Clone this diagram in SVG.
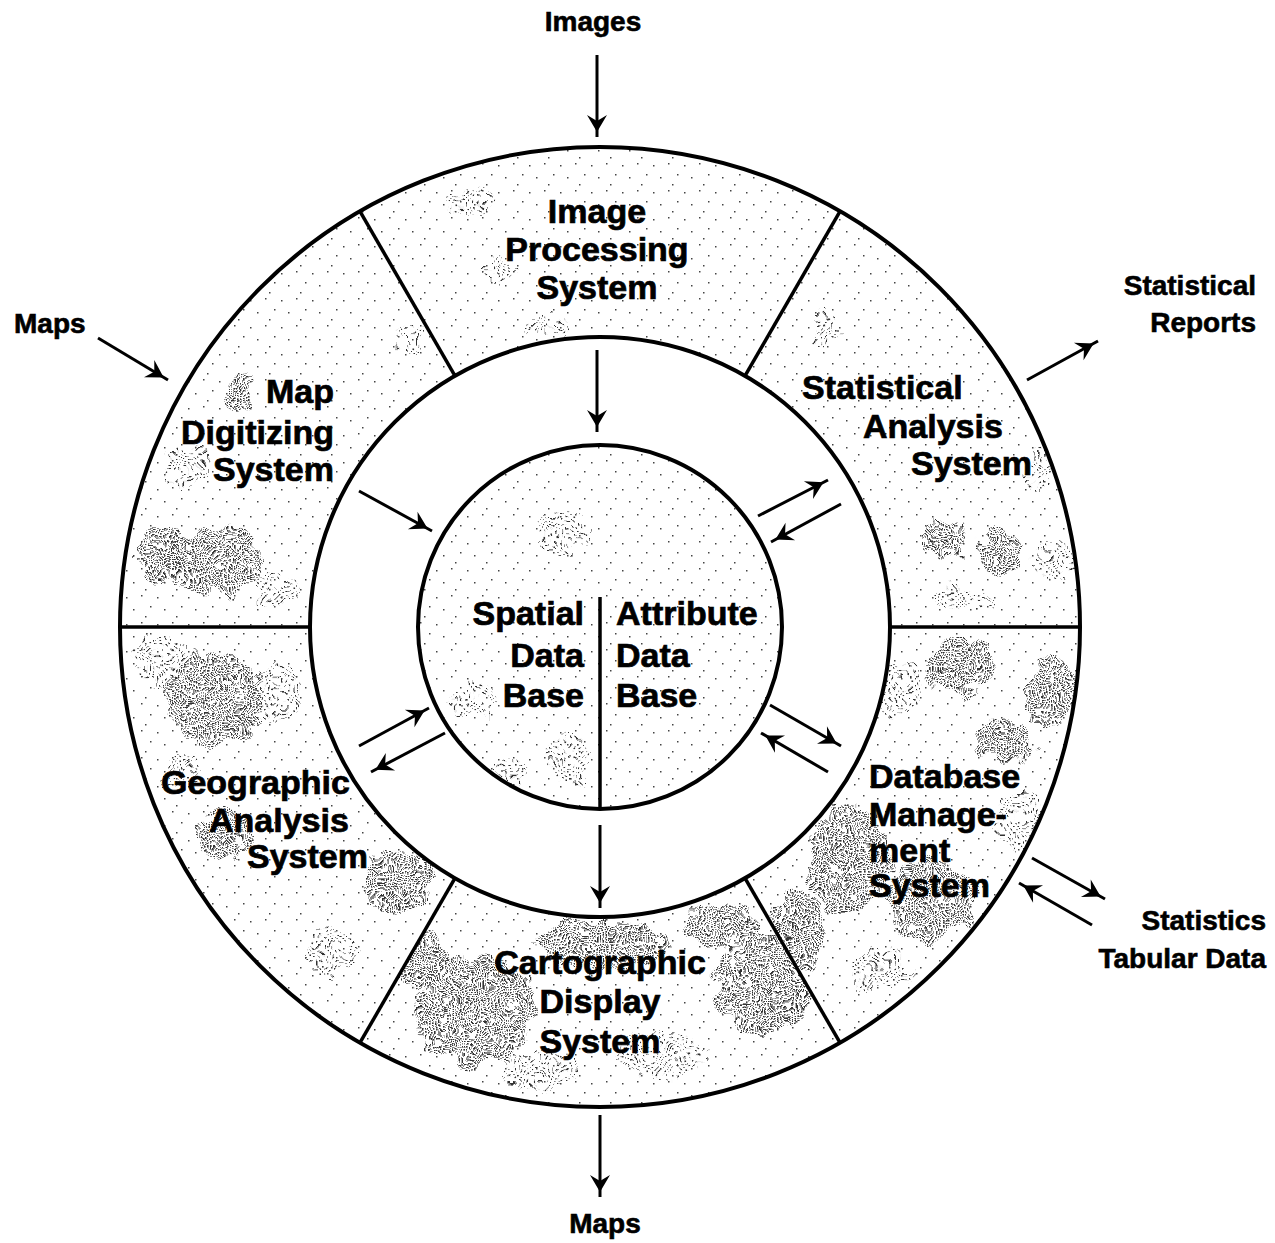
<svg xmlns="http://www.w3.org/2000/svg" xmlns:xlink="http://www.w3.org/1999/xlink" width="1275" height="1243" viewBox="0 0 1275 1243">
<style>
.lbl{font-family:"Liberation Sans",Arial,Helvetica,sans-serif;font-weight:bold;font-size:34px;fill:#000;stroke:#000;stroke-width:0.7px}
.ext{font-family:"Liberation Sans",Arial,Helvetica,sans-serif;font-weight:bold;font-size:28px;fill:#000;stroke:#000;stroke-width:0.6px}
.seg{fill:url(#light);stroke:none}
.ring{fill:none;stroke:#000;stroke-width:4}
.div{stroke:#000;stroke-width:3.5;fill:none}
.arr{stroke:#000;stroke-width:3;fill:none;marker-end:url(#ah)}
.blob{fill:url(#dense)}
.mid{fill:url(#medium)}
</style>
<defs>
<pattern id="light" width="31" height="27" patternUnits="userSpaceOnUse">
<rect x="2" y="3" width="1.5" height="1.5" fill="#444"/>
<rect x="17" y="1" width="1.5" height="1.5" fill="#444"/>
<rect x="26" y="12" width="1.5" height="1.5" fill="#444"/>
<rect x="9" y="15" width="1.5" height="1.5" fill="#444"/>
<rect x="21" y="22" width="1.5" height="1.5" fill="#444"/>
</pattern>
<pattern id="medium" width="7" height="7" patternUnits="userSpaceOnUse">
<rect x="1" y="1" width="1.6" height="1.6" fill="#333"/>
<rect x="4.5" y="4.5" width="1.6" height="1.6" fill="#333"/>
</pattern>
<pattern id="dense" width="3" height="3" patternUnits="userSpaceOnUse">
<rect x="0" y="0" width="1.6" height="1.6" fill="#333"/>
</pattern>
<filter id="mottle" filterUnits="userSpaceOnUse" x="0" y="0" width="1275" height="1243">
<feTurbulence type="fractalNoise" baseFrequency="0.05" numOctaves="2" seed="4" result="n"/>
<feDisplacementMap in="SourceGraphic" in2="n" scale="28" xChannelSelector="R" yChannelSelector="G"/>
</filter>
<marker id="ah" viewBox="-20 -12 30 24" markerWidth="30" markerHeight="24" refX="5" refY="0" orient="auto" markerUnits="userSpaceOnUse">
<path d="M0,0 L-17,-10 L-11,0 L-17,10 Z" fill="#000"/>
</marker>
<path id="s-img" d="M840,211.3 A480,480 0 0 0 360,211.3 L455,375.9 A290,290 0 0 1 745,375.9 Z"/>
<path id="s-stat" d="M1080,627 A480,480 0 0 0 840,211.3 L745,375.9 A290,290 0 0 1 890,627 Z"/>
<path id="s-db" d="M840,1042.7 A480,480 0 0 0 1080,627 L890,627 A290,290 0 0 1 745,878.1 Z"/>
<path id="s-carto" d="M360,1042.7 A480,480 0 0 0 840,1042.7 L745,878.1 A290,290 0 0 1 455,878.1 Z"/>
<path id="s-geo" d="M120,627 A480,480 0 0 0 360,1042.7 L455,878.1 A290,290 0 0 1 310,627 Z"/>
<path id="s-map" d="M360,211.3 A480,480 0 0 0 120,627 L310,627 A290,290 0 0 1 455,375.9 Z"/>
<clipPath id="c-img"><use xlink:href="#s-img"/></clipPath>
<clipPath id="c-stat"><use xlink:href="#s-stat"/></clipPath>
<clipPath id="c-db"><use xlink:href="#s-db"/></clipPath>
<clipPath id="c-carto"><use xlink:href="#s-carto"/></clipPath>
<clipPath id="c-geo"><use xlink:href="#s-geo"/></clipPath>
<clipPath id="c-map"><use xlink:href="#s-map"/></clipPath>
<clipPath id="c-core"><circle cx="600" cy="627" r="182"/></clipPath>
</defs>

<rect width="1275" height="1243" fill="#fff"/>

<g id="image-processing">
<use xlink:href="#s-img" class="seg"/>
<g clip-path="url(#c-img)"><g filter="url(#mottle)">
<ellipse class="mid" cx="470" cy="200" rx="20" ry="15"/>
<ellipse class="mid" cx="500" cy="270" rx="18" ry="14"/>
<ellipse class="mid" cx="545" cy="325" rx="22" ry="10"/>
<ellipse class="mid" cx="830" cy="300" rx="12" ry="14"/>
</g></g>
<text class="lbl" text-anchor="middle"><tspan x="597" y="223">Image</tspan><tspan x="597" y="261">Processing</tspan><tspan x="597" y="299">System</tspan></text>
</g>

<g id="statistical-analysis">
<use xlink:href="#s-stat" class="seg"/>
<g clip-path="url(#c-stat)"><g filter="url(#mottle)">
<ellipse class="mid" cx="825" cy="330" rx="14" ry="16"/>
<ellipse class="blob" cx="945" cy="540" rx="22" ry="20"/>
<ellipse class="blob" cx="1000" cy="550" rx="20" ry="26"/>
<ellipse class="mid" cx="1055" cy="560" rx="20" ry="20"/>
<ellipse class="mid" cx="960" cy="600" rx="30" ry="14"/>
<ellipse class="mid" cx="1040" cy="470" rx="14" ry="18"/>
</g></g>
<text class="lbl"><tspan x="802" y="399">Statistical</tspan><tspan x="863" y="438">Analysis</tspan><tspan x="911" y="475">System</tspan></text>
</g>

<g id="database-management">
<use xlink:href="#s-db" class="seg"/>
<g clip-path="url(#c-db)"><g filter="url(#mottle)">
<ellipse class="blob" cx="960" cy="665" rx="35" ry="30"/>
<ellipse class="blob" cx="1050" cy="690" rx="25" ry="35"/>
<ellipse class="mid" cx="900" cy="690" rx="22" ry="25"/>
<ellipse class="blob" cx="1005" cy="740" rx="30" ry="22"/>
<ellipse class="blob" cx="850" cy="860" rx="40" ry="55"/>
<ellipse class="blob" cx="930" cy="900" rx="45" ry="40"/>
<ellipse class="mid" cx="1020" cy="820" rx="25" ry="30"/>
<ellipse class="blob" cx="800" cy="930" rx="25" ry="40"/>
<ellipse class="mid" cx="880" cy="970" rx="30" ry="20"/>
</g></g>
<text class="lbl"><tspan x="869" y="788">Database</tspan><tspan x="869" y="826">Manage-</tspan><tspan x="869" y="862">ment</tspan><tspan x="869" y="897">System</tspan></text>
</g>

<g id="cartographic-display">
<use xlink:href="#s-carto" class="seg"/>
<g clip-path="url(#c-carto)"><g filter="url(#mottle)">
<ellipse class="blob" cx="475" cy="1010" rx="60" ry="55"/>
<ellipse class="blob" cx="420" cy="960" rx="25" ry="30"/>
<ellipse class="blob" cx="600" cy="945" rx="65" ry="25"/>
<ellipse class="blob" cx="765" cy="985" rx="50" ry="50"/>
<ellipse class="mid" cx="660" cy="1055" rx="45" ry="25"/>
<ellipse class="mid" cx="540" cy="1070" rx="40" ry="20"/>
<ellipse class="blob" cx="720" cy="925" rx="35" ry="20"/>
</g></g>
<text class="lbl" text-anchor="middle"><tspan x="600" y="974">Cartographic</tspan><tspan x="600" y="1013">Display</tspan><tspan x="600" y="1053">System</tspan></text>
</g>

<g id="geographic-analysis">
<use xlink:href="#s-geo" class="seg"/>
<g clip-path="url(#c-geo)"><g filter="url(#mottle)">
<ellipse class="blob" cx="215" cy="700" rx="50" ry="45"/>
<ellipse class="mid" cx="160" cy="660" rx="25" ry="25"/>
<ellipse class="mid" cx="275" cy="690" rx="25" ry="30"/>
<ellipse class="blob" cx="225" cy="835" rx="28" ry="25"/>
<ellipse class="blob" cx="400" cy="880" rx="35" ry="30"/>
<ellipse class="mid" cx="330" cy="950" rx="25" ry="25"/>
<ellipse class="mid" cx="180" cy="770" rx="20" ry="20"/>
</g></g>
<text class="lbl"><tspan x="161" y="794">Geographic</tspan><tspan x="209" y="832">Analysis</tspan><tspan x="247" y="868">System</tspan></text>
</g>

<g id="map-digitizing">
<use xlink:href="#s-map" class="seg"/>
<g clip-path="url(#c-map)"><g filter="url(#mottle)">
<ellipse class="blob" cx="238" cy="395" rx="14" ry="22"/>
<ellipse class="mid" cx="185" cy="465" rx="22" ry="20"/>
<ellipse class="blob" cx="215" cy="560" rx="50" ry="35"/>
<ellipse class="blob" cx="160" cy="555" rx="22" ry="28"/>
<ellipse class="mid" cx="275" cy="590" rx="22" ry="18"/>
<ellipse class="mid" cx="410" cy="340" rx="14" ry="14"/>
</g></g>
<text class="lbl" text-anchor="end"><tspan x="334" y="403">Map</tspan><tspan x="334" y="444">Digitizing</tspan><tspan x="334" y="481">System</tspan></text>
</g>

<g id="database-core">
<circle cx="600" cy="627" r="182" fill="url(#light)"/>
<g clip-path="url(#c-core)"><g filter="url(#mottle)">
<ellipse class="mid" cx="560" cy="530" rx="25" ry="22"/>
<ellipse class="mid" cx="475" cy="700" rx="22" ry="18"/>
<ellipse class="mid" cx="570" cy="760" rx="20" ry="25"/>
<ellipse class="mid" cx="510" cy="770" rx="15" ry="12"/>
</g></g>
<line x1="600" y1="597" x2="600" y2="808" stroke="#000" stroke-width="3.5"/>
</g>
<g id="spatial-db">
<text class="lbl" text-anchor="end"><tspan x="584" y="625">Spatial</tspan><tspan x="584" y="667">Data</tspan><tspan x="584" y="707">Base</tspan></text>
</g>
<g id="attribute-db">
<text class="lbl"><tspan x="616" y="625">Attribute</tspan><tspan x="616" y="667">Data</tspan><tspan x="616" y="707">Base</tspan></text>
</g>

<g id="frame">
<circle class="ring" cx="600" cy="627" r="480"/>
<circle class="ring" cx="600" cy="627" r="290"/>
<circle class="ring" cx="600" cy="627" r="182" stroke-width="3.5"/>
<line class="div" x1="455" y1="375.9" x2="360" y2="211.3"/>
<line class="div" x1="745" y1="375.9" x2="840" y2="211.3"/>
<line class="div" x1="455" y1="878.1" x2="360" y2="1042.7"/>
<line class="div" x1="745" y1="878.1" x2="840" y2="1042.7"/>
<line class="div" x1="310" y1="627" x2="120" y2="627"/>
<line class="div" x1="890" y1="627" x2="1080" y2="627"/>
</g>

<g id="ext-images"><text class="ext" x="593" y="31" text-anchor="middle">Images</text></g>
<g id="ext-maps-in"><text class="ext" x="14" y="333">Maps</text></g>
<g id="ext-reports"><text class="ext" text-anchor="end"><tspan x="1256" y="295">Statistical</tspan><tspan x="1256" y="332">Reports</tspan></text></g>
<g id="ext-statistics"><text class="ext" text-anchor="end"><tspan x="1266" y="930">Statistics</tspan><tspan x="1266" y="968">Tabular Data</tspan></text></g>
<g id="ext-maps-out"><text class="ext" x="605" y="1233" text-anchor="middle">Maps</text></g>

<g id="connectors">
<line class="arr" x1="597" y1="55" x2="597" y2="137"/>
<line class="arr" x1="98" y1="338" x2="168" y2="380"/>
<line class="arr" x1="1027" y1="380" x2="1098" y2="341"/>
<line class="arr" x1="1032" y1="858" x2="1105" y2="899"/>
<line class="arr" x1="1092" y1="925" x2="1019" y2="883"/>
<line class="arr" x1="600" y1="1115" x2="600" y2="1197"/>
<line class="arr" x1="597" y1="350" x2="597" y2="432"/>
<line class="arr" x1="600" y1="825" x2="600" y2="908"/>
<line class="arr" x1="359" y1="491" x2="432" y2="531"/>
<line class="arr" x1="758" y1="516" x2="828" y2="480"/>
<line class="arr" x1="841" y1="504" x2="771" y2="542"/>
<line class="arr" x1="359" y1="746" x2="429" y2="708"/>
<line class="arr" x1="445" y1="733" x2="371" y2="772"/>
<line class="arr" x1="770" y1="705" x2="841" y2="746"/>
<line class="arr" x1="828" y1="772" x2="761" y2="733"/>
</g>
</svg>
